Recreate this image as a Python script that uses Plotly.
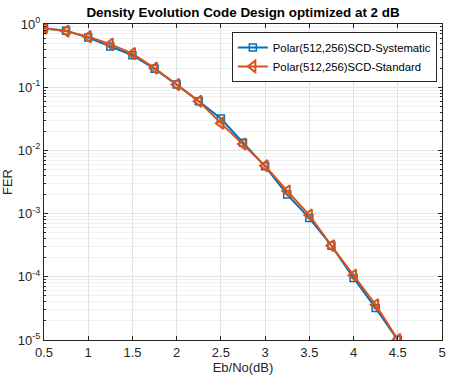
import plotly.graph_objects as go

ebno = [0.5, 0.75, 1.0, 1.25, 1.5, 1.75, 2.0, 2.25, 2.5, 2.75, 3.0, 3.25, 3.5, 3.75, 4.0, 4.25, 4.5]
fer_sys = [0.86, 0.78, 0.61, 0.44, 0.32, 0.195, 0.11, 0.06, 0.032, 0.0132, 0.0056, 0.0020, 0.00085, 0.00031, 9.6e-5, 3.2e-5, 1.0e-5]
fer_std = [0.86, 0.77, 0.63, 0.48, 0.34, 0.20, 0.11, 0.06, 0.027, 0.0126, 0.0057, 0.00228, 0.00095, 0.00031, 1.06e-4, 3.6e-5, 1.02e-5]

name_sys = "Polar(512,256)SCD-Systematic"
name_std = "Polar(512,256)SCD-Standard"

xticks = [0.5, 1, 1.5, 2, 2.5, 3, 3.5, 4, 4.5, 5]
yexp = [0, -1, -2, -3, -4, -5]

font = "Liberation Sans, Arial, sans-serif"
grid_major = "#e3e3e3"
grid_minor = "#f0f0f0"
axis_col = "#262626"

fig = go.Figure()
fig.add_trace(go.Scatter(x=ebno, y=fer_sys, name=name_sys, mode="lines+markers",
                         line=dict(color="#0072BD", width=2),
                         marker=dict(symbol="square-open", size=7, color="#0072BD", line=dict(width=1.5))))
fig.add_trace(go.Scatter(x=ebno, y=fer_std, name=name_std, mode="lines+markers",
                         line=dict(color="#D95319", width=2),
                         marker=dict(symbol="triangle-left-open", size=10, color="#D95319", line=dict(width=2))))

minor_y = [m * 10.0 ** e for e in range(-5, 0) for m in range(2, 10)]

fig.update_layout(
    width=450, height=378,
    margin=dict(l=44, r=8, t=24, b=38, autoexpand=False),
    paper_bgcolor="white", plot_bgcolor="white",
    font=dict(family=font, size=13, color=axis_col),
    title=dict(text="<b>Density Evolution Code Design optimized at 2 dB</b>",
               x=0.54, xanchor="center", y=0.968, yanchor="middle",
               font=dict(size=13.4, color="black")),
    showlegend=True,
    legend=dict(x=0.987, y=0.975, xanchor="right", yanchor="top",
                bgcolor="white", bordercolor="#262626", borderwidth=1,
                font=dict(size=11.3, color="black"), tracegroupgap=0,
                itemwidth=30),
    xaxis=dict(range=[0.5, 5], tickvals=xticks, ticktext=[str(v) for v in xticks],
               showgrid=True, gridcolor=grid_major, gridwidth=1,
               showline=True, linecolor=axis_col, linewidth=1, mirror="ticks",
               ticks="inside", ticklen=4, tickcolor=axis_col,
               zeroline=False, tickfont=dict(size=13), automargin=False,
               title=dict(text="Eb/No(dB)", font=dict(size=13), standoff=3)),
    yaxis=dict(type="log", range=[-5, 0],
               tickvals=[10.0 ** e for e in yexp],
               ticktext=["10<sup>%d</sup>" % e for e in yexp],
               showgrid=True, gridcolor=grid_major, gridwidth=1,
               showline=True, linecolor=axis_col, linewidth=1, mirror="ticks",
               ticks="inside", ticklen=4, tickcolor=axis_col,
               zeroline=False, tickfont=dict(size=13), automargin=False,
               minor=dict(tickvals=minor_y, showgrid=True, gridcolor=grid_minor,
                          ticks="inside", ticklen=2, tickcolor=axis_col),
               title=dict(text="FER", font=dict(size=13), standoff=2)),
)

fig.write_html("out.html")
